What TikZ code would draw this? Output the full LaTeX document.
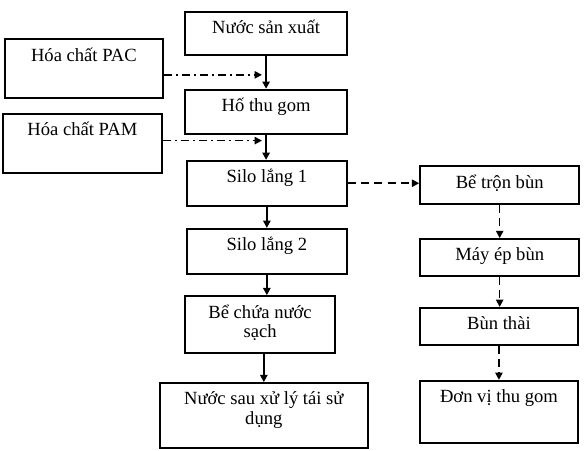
\documentclass[tikz,border=0pt]{standalone}
\usepackage{fontspec}
\setmainfont{Liberation Serif}
\usetikzlibrary{arrows.meta, positioning, calc}

\begin{document}
\begin{tikzpicture}[
    box/.style={draw, line width=1.4pt, anchor=north, align=center, inner xsep=2pt, inner ysep=4pt, text height=12.5pt, font=\fontsize{14pt}{15pt}\selectfont},
    flow/.style={line width=1.5pt, -{Triangle[length=5.5pt, width=5.5pt]}},
    chem/.style={line width=1.2pt, dash pattern=on 6pt off 3pt on 1.5pt off 3pt, -{Triangle[length=5.5pt, width=5.5pt]}},
    sludge/.style={line width=1.2pt, dash pattern=on 6pt off 4pt, -{Triangle[length=5.5pt, width=5.5pt]}}
  ]
    \useasboundingbox (0,0) rectangle (15.53,-11.93);

    \node[box, minimum width=4.29cm, text depth=11.75pt] (nuoc) at (7.04,-0.29) {Nước sản xuất};
    \node[box, minimum width=4.18cm, text depth=23.75pt] (pac) at (2.22,-1.01) {Hóa chất PAC};
    \node[box, minimum width=4.29cm, text depth=12.5pt] (hothu) at (7.04,-2.35) {Hố thu gom};
    \node[box, minimum width=4.21cm, text depth=23.75pt] (pam) at (2.18,-2.99) {Hóa chất PAM};
    \node[box, minimum width=4.23cm, text depth=13.25pt] (silo1) at (7.06,-4.23) {Silo lắng 1};
    \node[box, minimum width=4.23cm, text depth=13.25pt] (silo2) at (7.06,-6.03) {Silo lắng 2};
    \node[box, minimum width=3.97cm, text height=27.5pt, text depth=7.25pt] (bechua) at (6.88,-7.81) {Bể chứa nước\\sạch};
    \node[box, minimum width=5.50cm, text height=27.5pt, text depth=13.25pt] (nuocsau) at (6.98,-10.11) {Nước sau xử lý tái sử\\dụng};

    \node[box, minimum width=4.21cm, text depth=8pt] (betron) at (13.22,-4.37) {Bể trộn bùn};
    \node[box, minimum width=4.21cm, text depth=7.25pt] (mayep) at (13.22,-6.30) {Máy ép bùn};
    \node[box, minimum width=4.18cm, text depth=7.25pt] (bunthai) at (13.20,-8.12) {Bùn thài};
    \node[box, minimum width=4.18cm, text depth=26pt] (donvi) at (13.20,-10.05) {Đơn vị thu gom};

    \coordinate (pacin) at (6.93,-1.98);
    \coordinate (pamin) at (6.93,-3.72);

    \draw[flow] (nuoc.south) -- (nuoc.south |- hothu.north);
    \draw[flow] (hothu.south) -- (hothu.south |- silo1.north);
    \draw[flow] (silo1.south) -- (silo1.south |- silo2.north);
    \draw[flow] (silo2.south) -- (silo2.south |- bechua.north);
    \draw[flow] (nuocsau.north |- bechua.south) -- (nuocsau.north);

    \draw[chem] (pac.east |- pacin) -- (pacin);
    \draw[chem] (pam.east |- pamin) -- (pamin);

    \draw[sludge] (silo1.east) -- (silo1.east -| betron.west);
    \draw[sludge] (betron.south) -- (betron.south |- mayep.north);
    \draw[sludge] (mayep.south) -- (mayep.south |- bunthai.north);
    \draw[sludge] (bunthai.south) -- (bunthai.south |- donvi.north);
  \end{tikzpicture}
\end{document}
